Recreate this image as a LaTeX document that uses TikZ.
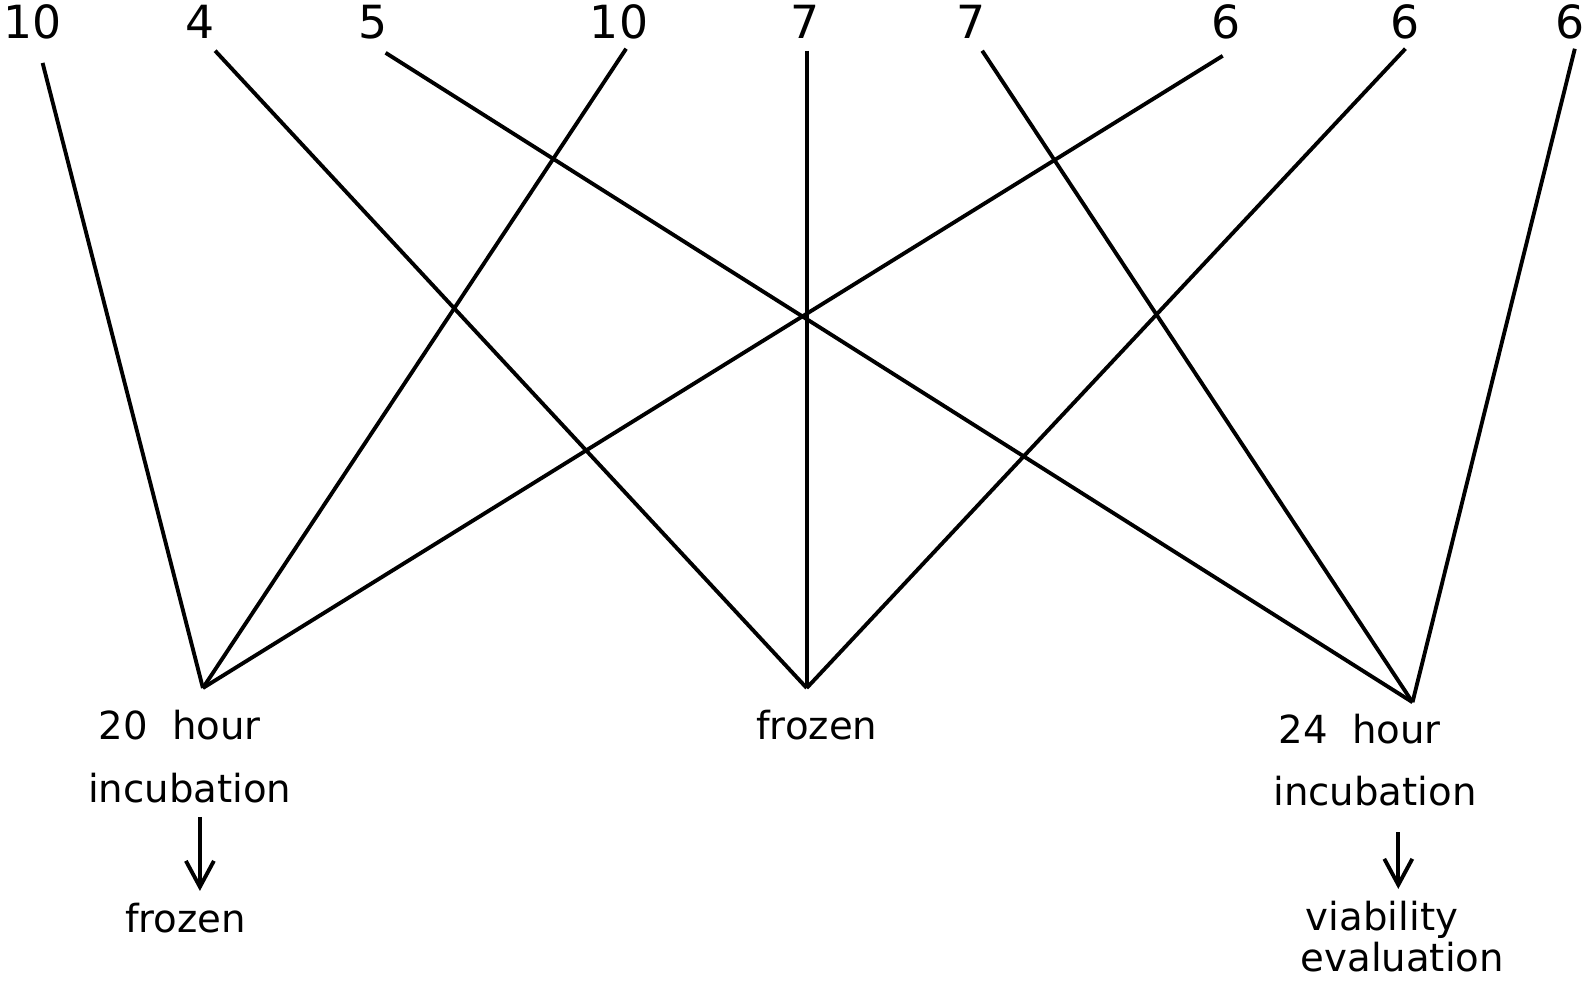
\documentclass[tikz,border=0pt]{standalone}
\usepackage{fontspec}
\setmainfont{DejaVu Sans}
\usetikzlibrary{arrows.meta}

\begin{document}
\begin{tikzpicture}[
  edge/.style={line width=1.1pt},
  flow/.style={line width=1.1pt,-{Straight Barb[length=2.6mm,width=2.8mm]}},
  count/.style={font=\fontsize{13}{15}\selectfont},
  lbl/.style={font=\fontsize{11}{13}\selectfont}
]
\useasboundingbox (0,0) rectangle (15.910,-9.800);
% meeting points
\coordinate (v20) at (2.029,-6.880);
\coordinate (vfr) at (8.067,-6.880);
\coordinate (v24) at (14.125,-7.022);
% upper ends of the lines
\coordinate (t1) at (0.426,-0.629);
\coordinate (t2) at (2.151,-0.507);
\coordinate (t3) at (3.856,-0.528);
\coordinate (t4) at (6.261,-0.487);
\coordinate (t5) at (8.067,-0.507);
\coordinate (t6) at (9.822,-0.507);
\coordinate (t7) at (12.227,-0.558);
\coordinate (t8) at (14.054,-0.487);
\coordinate (t9) at (15.748,-0.487);
\node[count] (n1) at (0.330,-0.223) {10};
\node[count] (n2) at (1.999,-0.223) {4};
\node[count] (n3) at (3.734,-0.223) {5};
\node[count] (n4) at (6.190,-0.223) {10};
\node[count] (n5) at (8.047,-0.223) {7};
\node[count] (n6) at (9.711,-0.223) {7};
\node[count] (n7) at (12.258,-0.223) {6};
\node[count] (n8) at (14.054,-0.223) {6};
\node[count] (n9) at (15.700,-0.223) {6};
\draw[edge] (t1) -- (v20);
\draw[edge] (t4) -- (v20);
\draw[edge] (t7) -- (v20);
\draw[edge] (t2) -- (vfr);
\draw[edge] (t5) -- (vfr);
\draw[edge] (t8) -- (vfr);
\draw[edge] (t3) -- (v24);
\draw[edge] (t6) -- (v24);
\draw[edge] (t9) -- (v24);
% left group
\node[lbl] (h20) at (1.796,-7.255) {20\ \ hour};
\node[lbl] (inc20) at (1.897,-7.884) {incubation};
\node[lbl] (fr20) at (1.857,-9.183) {frozen};
\coordinate (a20) at (1.999,-8.168);
\draw[flow] (a20) -- (a20 |- fr20.north);
% middle
\node[lbl] (frm) at (8.168,-7.255) {frozen};
% right group
\node[lbl] (h24) at (13.597,-7.286) {24\ \ hour};
\node[lbl] (inc24) at (13.749,-7.915) {incubation};
\node[lbl] (via) at (13.820,-9.200) {viability};
\node[lbl] (eva) at (14.023,-9.570) {evaluation};
\coordinate (a24) at (13.983,-8.321);
\draw[flow] (a24) -- (a24 |- via.north);
\end{tikzpicture}
\end{document}
